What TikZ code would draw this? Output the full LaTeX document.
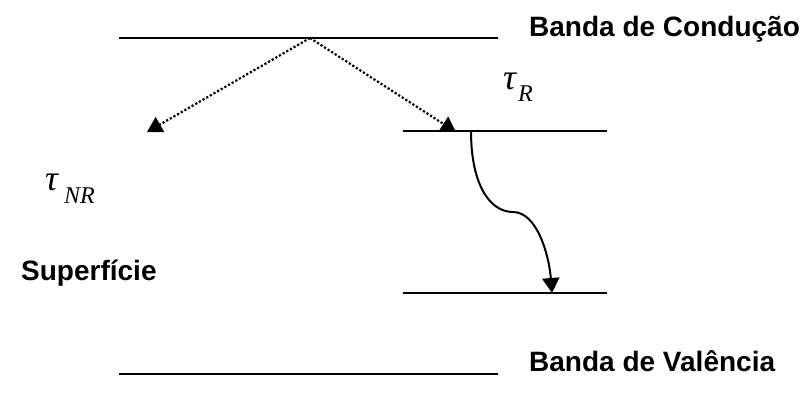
\documentclass[tikz,border=0pt]{standalone}
\usepackage{fontspec}
\setmainfont{Liberation Sans}
\newfontfamily\serifit{Liberation Serif}
\usetikzlibrary{arrows.meta}
\begin{document}
\begin{tikzpicture}[x=1pt,y=-1pt,
  level/.style={line width=2pt},
  lbl/.style={font=\fontsize{28}{30}\selectfont\bfseries, inner sep=0pt},
  tau/.style={font=\fontsize{36}{38}\selectfont\serifit\itshape, inner sep=0pt},
  sub/.style={font=\fontsize{24}{26}\selectfont\serifit\itshape, inner sep=0pt},
  tip/.style={-{Triangle[width=17pt,length=15pt]}},
  dotarrow/.style={tip, line width=2.2pt, dash pattern=on 2.2pt off 2pt}]
\useasboundingbox (0,0) rectangle (805,401);
% levels
\coordinate (cbL) at (119,38);
\coordinate (cbR) at (498,38);
\coordinate (cbM) at (310,38);
\coordinate (upL) at (403,131);
\coordinate (upR) at (607,131);
\coordinate (loL) at (403,293);
\coordinate (loR) at (607,293);
\coordinate (vbL) at (119,374);
\coordinate (vbR) at (498,374);
\draw[level] (cbL) -- (cbR);
\draw[level] (upL) -- (upR);
\draw[level] (loL) -- (loR);
\draw[level] (vbL) -- (vbR);
% arrow targets
\coordinate (tl) at (147,132);
\coordinate (tr) at (456,132);
\coordinate (s) at (471,131);
\coordinate (mid) at (513,212);
\coordinate (e) at (552,293);
\draw[dotarrow] (cbM) -- (tl);
\draw[dotarrow] (cbM) -- (tr);
\draw[tip, line width=2pt] (s) .. controls (471,185) and (490,212) .. (mid) .. controls (537,212) and (549,255) .. (e);
% labels
\node[lbl, anchor=base west] (cond) at (529,37) {Banda de Condução};
\node[lbl, anchor=base west] (val) at (529,371) {Banda de Valência};
\node[lbl, anchor=base west] (sup) at (21,280) {Superfície};
\node[tau, anchor=base west] (tR) at (503,90) {τ};
\node[sub, anchor=base west] (tRs) at (518,102) {R};
\node[tau, anchor=base west] (tNR) at (45,190) {τ};
\node[sub, anchor=base west] (tNRs) at (64,203) {NR};
\end{tikzpicture}
\end{document}
